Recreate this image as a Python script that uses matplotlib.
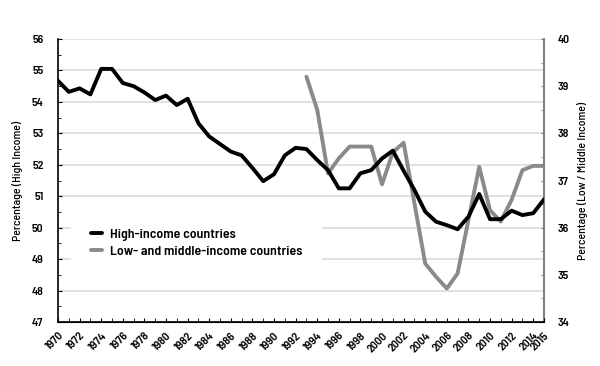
import numpy as np
import matplotlib.pyplot as plt
from matplotlib.ticker import MultipleLocator, FixedLocator

plt.rcParams['font.family'] = ['Barlow Semi Condensed', 'DejaVu Sans']

years = np.arange(1970, 2016)
high_income = [54.67, 54.32, 54.43, 54.24, 55.05, 55.05, 54.6, 54.5, 54.3, 54.06,
               54.2, 53.9, 54.1, 53.32, 52.9, 52.66, 52.42, 52.3, 51.9, 51.48,
               51.7, 52.3, 52.54, 52.5, 52.15, 51.83, 51.25, 51.25, 51.73, 51.83,
               52.2, 52.45, 51.81, 51.2, 50.51, 50.19, 50.08, 49.95, 50.35, 51.07,
               50.27, 50.27, 50.54, 50.4, 50.46, 50.9]

lmi_years = np.arange(1993, 2016)
low_middle = [39.2, 38.5, 37.15, 37.47, 37.72, 37.72, 37.72, 36.92, 37.6, 37.8,
              36.52, 35.24, 34.96, 34.71, 35.03, 36.16, 37.29, 36.37, 36.13, 36.59,
              37.22, 37.31, 37.31]

tick_years = list(range(1970, 2015, 2)) + [2015]

fig = plt.figure(figsize=(6, 3.66), dpi=100)
ax = fig.add_axes([0.0967, 0.1202, 0.81, 0.7732])
ax2 = ax.twinx()

# black line on top of grey one
ax.set_zorder(ax2.get_zorder() + 1)
ax.patch.set_visible(False)

ax2.plot(lmi_years, low_middle, color='#8a8a8a', lw=2.8, solid_joinstyle='round',
         solid_capstyle='round', label='Low- and middle-income countries')
ax.plot(years, high_income, color='black', lw=2.8, solid_joinstyle='round',
        solid_capstyle='round', label='High-income countries')

ax.set_xlim(1970, 2015)
ax.set_ylim(47, 56)
ax2.set_ylim(34, 40)

for v in range(48, 57):
    ax2.axhline(34 + (v - 47) * 6 / 9, color='#dedede', lw=1.3, zorder=0)

ax.xaxis.set_major_locator(FixedLocator(tick_years))
ax.xaxis.set_minor_locator(MultipleLocator(1))
ax.set_xticklabels([str(y) for y in tick_years], rotation=45, ha='right',
                   rotation_mode='anchor', fontsize=8.5, fontweight=600)
ax.yaxis.set_major_locator(MultipleLocator(1))
ax.yaxis.set_minor_locator(MultipleLocator(0.5))
ax2.yaxis.set_major_locator(MultipleLocator(1))
ax2.yaxis.set_minor_locator(MultipleLocator(0.5))

ax.tick_params(axis='both', which='both', direction='in')
ax.tick_params(axis='y', which='major', length=3, pad=10.5, labelsize=8.5)
ax.tick_params(axis='y', which='minor', length=2)
ax.tick_params(axis='x', which='both', length=3, pad=6)
ax2.tick_params(axis='y', which='both', direction='in', length=2.5,
                color='#808080', labelsize=8.5, pad=9.5)
for lab in ax.get_yticklabels() + ax2.get_yticklabels():
    lab.set_fontweight(600)

for s in ['top', 'right']:
    ax.spines[s].set_visible(False)
ax2.spines['top'].set_visible(False)
ax2.spines['left'].set_visible(False)
ax2.spines['right'].set_color('#808080')
ax2.spines['right'].set_linewidth(1.5)
ax.spines['left'].set_linewidth(1.2)
ax.spines['bottom'].set_linewidth(1.2)

ax.set_ylabel('Percentage (High Income)', fontsize=8.5, fontweight=500)
ax2.set_ylabel('Percentage (Low / Middle Income)', fontsize=8.5, fontweight=500)
ax.yaxis.set_label_coords(-0.072, 0.5)
ax2.yaxis.set_label_coords(1.068, 0.5)

h1, l1 = ax.get_legend_handles_labels()
h2, l2 = ax2.get_legend_handles_labels()
leg = ax.legend(h1 + h2, l1 + l2, loc='center left', bbox_to_anchor=(0.027, 0.279),
                borderaxespad=0, borderpad=1.4, fontsize=10, handlelength=0.8,
                handletextpad=0.6, frameon=True, facecolor='white', edgecolor='none',
                framealpha=1, labelspacing=0.25)
for t in leg.get_texts():
    t.set_fontweight(600)

fig.savefig('out.png', dpi=100)
